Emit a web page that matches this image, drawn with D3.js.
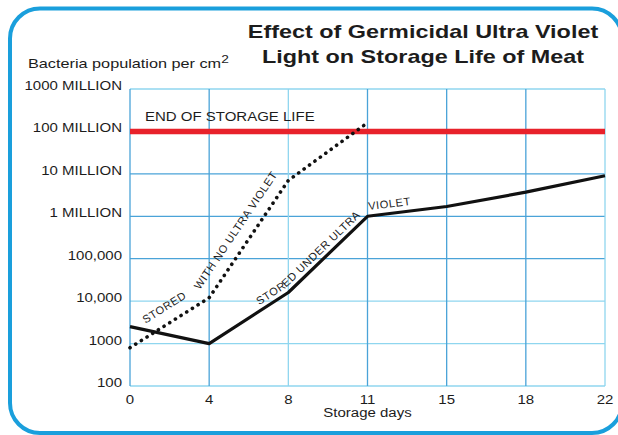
<!DOCTYPE html>
<html>
<head>
<meta charset="utf-8">
<script src="https://cdn.jsdelivr.net/npm/d3@7"></script>
<style>
  body { margin: 0; background: #fff; }
  svg text { font-family: "Liberation Sans", Arial, sans-serif; fill: #1c1c1c; }
</style>
</head>
<body>
<svg id="chart" width="618" height="435"></svg>
<script>

// Storage days (equally spaced on the chart)
const days = ["0", "4", "8", "11", "15", "18", "22"];

// Log axis ticks and their labels
const yTicks = [1e2, 1e3, 1e4, 1e5, 1e6, 1e7, 1e8, 1e9];
const yTickLabels = ["100", "1000", "10,000", "100,000", "1 MILLION", "10 MILLION", "100 MILLION", "1000 MILLION"];

// Bacteria per cm2
const withUV = [2500, 1000, 16000, 1000000, 1700000, 3700000, 9000000];
const noUV = [800, 12000, 7000000, 160000000];   // days 0 to 11
const storageLimit = 1e8;

const title = ["Effect of Germicidal Ultra Violet", "Light on Storage Life of Meat"];

let chart = {
    margins : { top: 89, right: 13, bottom: 49, left: 130 },
    width : 618,
    height : 435,
    stretch : 1.25
};

let svg = d3.select("#chart");

let x = d3.scalePoint()
    .domain(days)
    .range([chart.margins.left, chart.width - chart.margins.right]);

let y = d3.scaleLog()
    .domain([yTicks[0], yTicks[yTicks.length - 1]])
    .range([chart.height - chart.margins.bottom, chart.margins.top]);

// Horizontally stretched text, like the original artwork
function wideText(parent, px, py, str, size, anchor, sx) {
    return parent.append("text")
        .attr("transform", "translate(" + px + "," + py + ") scale(" + (sx || chart.stretch) + ",1)")
        .attr("text-anchor", anchor || "start")
        .style("font-size", size + "px")
        .text(str);
}

// Rounded blue frame
svg.append("rect")
    .attr("x", 10).attr("y", 8.5)
    .attr("width", 612).attr("height", 424.5)
    .attr("rx", 30).attr("ry", 30)
    .attr("fill", "none")
    .attr("stroke", "#1a9fdc")
    .attr("stroke-width", 4);

// Title
title.forEach(function (line, i) {
    wideText(svg, 423, 38 + i * 25, line, 18, "middle", 1.3)
        .style("font-weight", "bold");
});

// Y axis caption with superscript
let cap = wideText(svg, 28, 68, "Bacteria population per cm", 13);
cap.append("tspan").attr("dy", -5).style("font-size", "11px").text("2");

// Grid lines (the artwork mixes a darker and a lighter blue)
let light = "#8fd6ef", dark = "#4aa3d8";
let grid = svg.append("g");
grid.selectAll(".hgrid")
    .data(yTicks)
    .enter()
    .append("line")
    .attr("x1", x.range()[0]).attr("x2", x.range()[1])
    .attr("y1", d => y(d)).attr("y2", d => y(d))
    .attr("stroke", (d, i) => (i <= 2 || i === 7) ? light : dark)
    .attr("stroke-width", 1.3);

grid.selectAll(".vgrid")
    .data(days)
    .enter()
    .append("line")
    .attr("x1", d => x(d)).attr("x2", d => x(d))
    .attr("y1", y.range()[0]).attr("y2", y.range()[1])
    .attr("stroke", (d, i) => (i === 2 || i === 6) ? light : dark)
    .attr("stroke-width", 1.3);

// Tick labels
yTicks.forEach(function (t, i) {
    wideText(svg, 122, y(t) + 1, yTickLabels[i], 12, "end");
});
days.forEach(function (d) {
    wideText(svg, x(d), 404, d, 12, "middle");
});
wideText(svg, (x.range()[0] + x.range()[1]) / 2, 417, "Storage days", 12, "middle");

// End of storage life
svg.append("line")
    .attr("x1", x.range()[0]).attr("x2", x.range()[1])
    .attr("y1", y(storageLimit)).attr("y2", y(storageLimit))
    .attr("stroke", "#e8222b")
    .attr("stroke-width", 5.5);
wideText(svg, x(days[0]) + 15, y(storageLimit) - 10, "END OF STORAGE LIFE", 12);

// Series lines
let line = d3.line()
    .x((d, i) => x(days[i]))
    .y(d => y(d));

let defs = svg.append("defs");

function seriesPath(id, values, dotted) {
    defs.append("path").attr("id", id).attr("d", line(values));
    let p = svg.append("path")
        .attr("d", line(values))
        .attr("fill", "none")
        .attr("stroke", "#111")
        .attr("stroke-linejoin", "round");
    if (dotted) {
        p.attr("stroke-width", 3.6)
            .attr("stroke-linecap", "round")
            .attr("stroke-dasharray", "0.1,6.6");
    } else {
        p.attr("stroke-width", 3.2);
    }
}

// Distance along a series path up to a given day index
function lengthTo(values, idx) {
    let len = 0;
    for (let i = 1; i <= idx; i++) {
        let dx = x(days[i]) - x(days[i - 1]);
        let dy = y(values[i]) - y(values[i - 1]);
        len += Math.sqrt(dx * dx + dy * dy);
    }
    return len;
}

function pathLabel(pathId, str, offset, dy) {
    svg.append("text")
        .style("font-size", "11px")
        .style("letter-spacing", "0.6px")
        .append("textPath")
        .attr("href", "#" + pathId)
        .attr("startOffset", offset)
        .append("tspan")
        .attr("dy", dy)
        .text(str);
}

seriesPath("no-uv", noUV, true);
seriesPath("with-uv", withUV, false);

pathLabel("no-uv", "STORED", 26, -12);
pathLabel("no-uv", "WITH NO ULTRA VIOLET", lengthTo(noUV, 1) + 1, -12);
pathLabel("with-uv", "STORED UNDER ULTRA", lengthTo(withUV, 1) + 63, -5);
pathLabel("with-uv", "VIOLET", lengthTo(withUV, 3) + 2, -6);

</script>
</body>
</html>
